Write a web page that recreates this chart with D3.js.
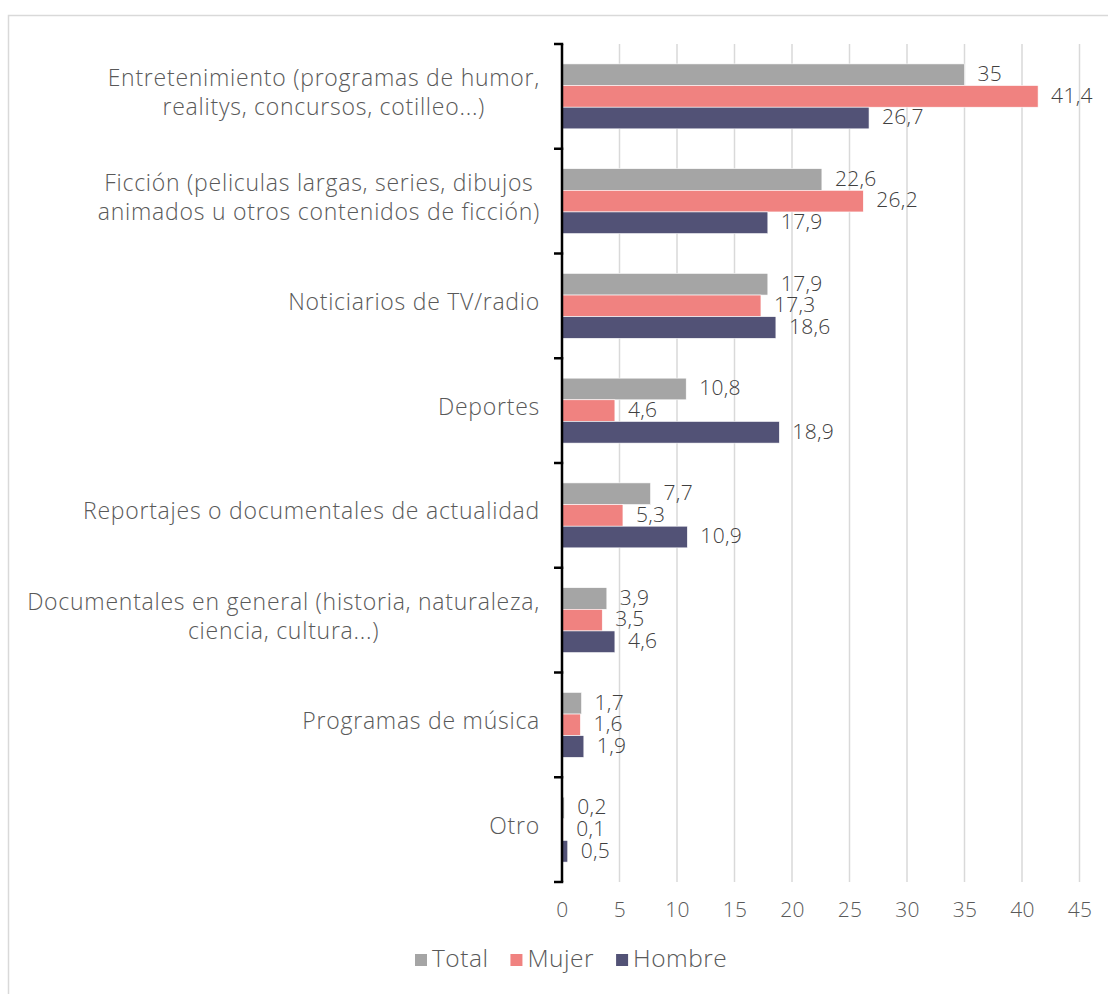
<!DOCTYPE html>
<html>
<head>
<meta charset="utf-8">
<script src="https://cdn.jsdelivr.net/npm/d3@7"></script>
<style>
  body { margin: 0; background: #fff; }
  svg { font-family: "Open Sans", "Lato", sans-serif; font-weight: 300; }
  .grid line { stroke: #d9d9d9; stroke-width: 1.5; }
  .cat-label { fill: #595959; font-size: 23px; letter-spacing: 0.75px; }
  .val-label { fill: #404040; font-size: 21px; letter-spacing: 0.3px; }
  .x-axis text { fill: #595959; font-family: "Open Sans", sans-serif; font-weight: 300; font-size: 21px; letter-spacing: 0.3px; }
  .legend text { fill: #595959; font-size: 24.5px; letter-spacing: 0.5px; }
</style>
</head>
<body>
<svg id="chart"></svg>
<script>
// Data
const categories = [
  ["Entretenimiento (programas de humor,", "realitys, concursos, cotilleo...)"],
  ["Ficción (peliculas largas, series, dibujos", "animados u otros contenidos de ficción)"],
  ["Noticiarios de TV/radio"],
  ["Deportes"],
  ["Reportajes o documentales de actualidad"],
  ["Documentales en general (historia, naturaleza,", "ciencia, cultura...)"],
  ["Programas de música"],
  ["Otro"]
];
const seriesNames = ["Total", "Mujer", "Hombre"];
const totalValues  = [35, 22.6, 17.9, 10.8, 7.7, 3.9, 1.7, 0.2];
const mujerValues  = [41.4, 26.2, 17.3, 4.6, 5.3, 3.5, 1.6, 0.1];
const hombreValues = [26.7, 17.9, 18.6, 18.9, 10.9, 4.6, 1.9, 0.5];
const xTicks = [0, 5, 10, 15, 20, 25, 30, 35, 40, 45];

const colors = ["#a5a5a5", "#f08280", "#525276"];

const width = 1108, height = 994;
const margin = {top: 44, left: 562, right: 28, bottom: 112};
const innerW = 1079.5 - margin.left;
const innerH = 882 - margin.top;

const svg = d3.select("#chart").attr("width", width).attr("height", height);

// outer frame
svg.append("rect")
    .attr("x", 8.5).attr("y", 15.5)
    .attr("width", 1200).attr("height", 1200)
    .attr("fill", "none").attr("stroke", "#d9d9d9").attr("stroke-width", 1.5);

const chart = svg.append("g").attr("transform", `translate(${margin.left},${margin.top})`);

const keys = categories.map((d, i) => i);
const rows = keys.map(i => ({
  idx: i,
  lines: categories[i],
  values: [totalValues[i], mujerValues[i], hombreValues[i]]
}));

const x = d3.scaleLinear().domain([0, 45]).range([0, innerW]);
const y = d3.scaleBand().domain(keys).range([0, innerH]).paddingInner(0.38).paddingOuter(0.19);
const ySub = d3.scaleBand().domain([0, 1, 2]).range([0, y.bandwidth()]);

const fmt = d3.formatLocale({decimal: ",", thousands: ".", grouping: [3], currency: ["", "€"]}).format("~g");

// gridlines
chart.append("g").attr("class", "grid")
  .selectAll("line").data(xTicks.slice(1)).join("line")
    .attr("x1", d => x(d)).attr("x2", d => x(d))
    .attr("y1", 0).attr("y2", innerH);

// x axis labels (no line)
const xAxis = d3.axisBottom(x).tickValues(xTicks).tickSize(0).tickPadding(20).tickFormat(d => d);
chart.append("g").attr("class", "x-axis")
    .attr("transform", `translate(0,${innerH})`)
    .call(xAxis)
    .call(g => g.attr("font-family", null).attr("font-size", null))
    .call(g => g.select(".domain").remove());

// bars
const groups = chart.selectAll(".cat").data(rows).join("g")
    .attr("class", "cat")
    .attr("transform", d => `translate(0,${y(d.idx)})`);

groups.selectAll("rect").data(d => d.values.map((v, s) => ({v, s}))).join("rect")
    .attr("x", 0)
    .attr("y", d => ySub(d.s))
    .attr("width", d => x(d.v))
    .attr("height", ySub.bandwidth())
    .attr("fill", d => colors[d.s])
    .attr("stroke", "#fff").attr("stroke-width", 0.6);

groups.selectAll(".val-label").data(d => d.values.map((v, s) => ({v, s}))).join("text")
    .attr("class", "val-label")
    .attr("x", d => x(d.v) + 13)
    .attr("y", d => ySub(d.s) + ySub.bandwidth() / 2)
    .attr("dy", "0.3em")
    .text(d => fmt(d.v));

// y axis line with boundary ticks
const step = innerH / categories.length;
const yAxisG = chart.append("g").attr("class", "y-axis");
yAxisG.append("line")
    .attr("x1", 0).attr("x2", 0).attr("y1", 0).attr("y2", innerH)
    .attr("stroke", "#000").attr("stroke-width", 2.5);
yAxisG.selectAll(".tick-b").data(d3.range(categories.length + 1)).join("line")
    .attr("class", "tick-b")
    .attr("x1", -8).attr("x2", 1.25)
    .attr("y1", d => d * step).attr("y2", d => d * step)
    .attr("stroke", "#000").attr("stroke-width", 2.5);

// category labels: block right-aligned, lines centered within block
const labelRight = -22;
const lineH = 29;
rows.forEach(r => {
  const cy = y(r.idx) + y.bandwidth() / 2 - 4;
  const g = chart.append("g");
  const texts = r.lines.map((t, i) => g.append("text")
      .attr("class", "cat-label")
      .attr("y", cy + (i - (r.lines.length - 1) / 2) * lineH)
      .attr("dy", "0.35em")
      .attr("text-anchor", "middle")
      .text(t));
  const maxW = d3.max(texts, t => t.node().getComputedTextLength());
  texts.forEach(t => t.attr("x", labelRight - maxW / 2));
});

// legend
const legend = svg.append("g").attr("class", "legend").attr("transform", "translate(415,958)");
let lx = 0;
seriesNames.forEach((name, i) => {
  const item = legend.append("g").attr("transform", `translate(${lx},0)`);
  item.append("rect").attr("x", 0).attr("y", -4).attr("width", 12).attr("height", 12).attr("fill", colors[i]);
  const t = item.append("text").attr("x", 17).attr("dy", "0.35em").text(name);
  lx += 17 + t.node().getComputedTextLength() + 22;
});
</script>
</body>
</html>
